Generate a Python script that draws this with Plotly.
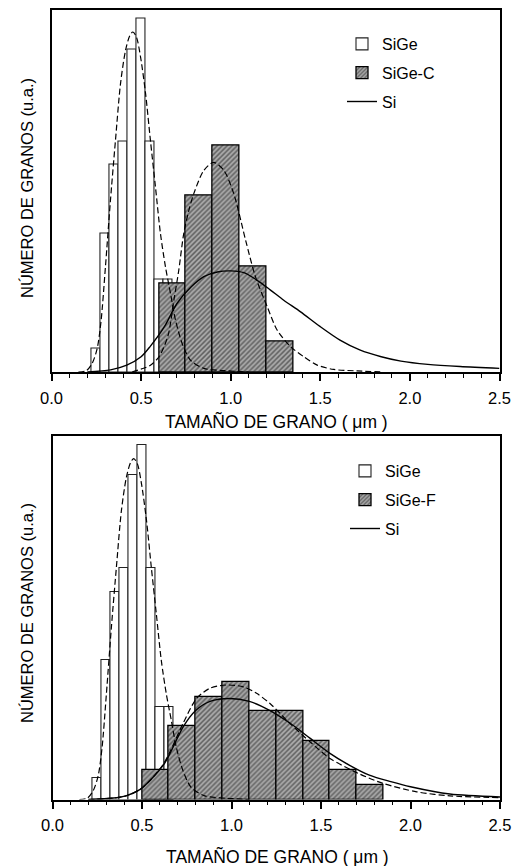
import plotly.graph_objects as go

# ---------------- data (arbitrary units, 0-100 = full plot height) ----------------
# SiGe histogram (bin width 0.05 um)
sige_x = [0.25, 0.30, 0.35, 0.40, 0.45, 0.50, 0.55, 0.60, 0.65]
sige_y_top = [6.5, 38.2, 57.2, 63.6, 89.0, 97.4, 63.6, 25.5, 25.5]
sige_y_bot = [5.8, 38.4, 57.2, 63.8, 89.2, 97.6, 63.8, 25.5, 25.5]

# SiGe-C histogram (bin width 0.15 um)
sigec_x = [0.675, 0.825, 0.975, 1.125, 1.275]
sigec_y = [24.4, 48.7, 62.5, 29.2, 8.3]

# SiGe-F histogram (bin width 0.15 um)
sigef_x = [0.575, 0.725, 0.875, 1.025, 1.175, 1.325, 1.475, 1.625, 1.775]
sigef_y = [8.1, 20.2, 28.2, 32.3, 24.3, 24.3, 16.1, 8.1, 4.0]

# SiGe fitted distribution (dashed)
fit_sige_x = [0.15, 0.195, 0.227, 0.255, 0.277, 0.301, 0.329, 0.357, 0.385, 0.413, 0.437,
              0.454, 0.474, 0.497, 0.525, 0.552, 0.580, 0.608, 0.636, 0.664, 0.692,
              0.729, 0.775, 0.850, 0.961, 1.10]
fit_sige_y = [0.0, 0.4, 2.4, 6.5, 14.3, 29.0, 47.4, 63.9, 79.5, 88.7, 92.8,
              93.8, 92.4, 86.9, 76.8, 63.9, 51.1, 38.2, 29.0, 21.7, 14.3,
              7.9, 3.3, 1.0, 0.4, 0.0]

# SiGe-C fitted distribution (dashed)
fit_sigec_x = [0.45, 0.50, 0.55, 0.60, 0.65, 0.683, 0.71, 0.738, 0.766, 0.794, 0.85,
               0.905, 0.962, 1.017, 1.083, 1.138, 1.204, 1.259, 1.334, 1.408, 1.483,
               1.575, 1.706, 1.85]
fit_sigec_y = [0.0, 0.8, 1.8, 4.2, 10.0, 19.8, 28.0, 38.2, 44.5, 49.2, 55.6,
               57.8, 55.6, 49.2, 36.4, 26.3, 18.0, 11.6, 7.0, 4.2, 1.9,
               0.7, 0.3, 0.0]

# Si fitted distribution, top panel (solid)
si_top_x = [0.20, 0.33, 0.42, 0.50, 0.55, 0.63, 0.70, 0.78, 0.85, 0.925, 1.0, 1.073,
            1.148, 1.222, 1.296, 1.39, 1.50, 1.61, 1.72, 1.84, 1.95, 2.10, 2.28, 2.50]
si_top_y = [0.0, 0.6, 1.9, 4.2, 7.0, 12.5, 18.9, 23.5, 26.3, 27.6, 27.9, 27.4,
            25.3, 22.6, 19.8, 16.6, 12.5, 8.8, 6.1, 4.2, 3.0, 2.1, 1.5, 1.0]

# Si fitted distribution, bottom panel (solid)
si_bot_x = [0.20, 0.34, 0.41, 0.49, 0.55, 0.62, 0.66, 0.73, 0.80, 0.88, 0.99, 1.10,
            1.21, 1.33, 1.44, 1.55, 1.66, 1.77, 1.89, 2.00, 2.22, 2.50]
si_bot_y = [0.0, 0.4, 1.0, 2.8, 5.5, 9.5, 13.0, 20.0, 24.5, 27.0, 27.8, 27.0,
            24.6, 20.9, 16.8, 12.7, 9.4, 6.7, 4.9, 3.5, 1.5, 0.7]

# SiGe-F fitted distribution (dashed)
fit_sigef_x = [0.20, 0.34, 0.41, 0.49, 0.55, 0.62, 0.66, 0.73, 0.805, 0.879, 0.972,
               1.066, 1.14, 1.215, 1.327, 1.44, 1.55, 1.708, 1.848, 2.035, 2.22, 2.50]
fit_sigef_y = [0.0, 0.4, 1.0, 2.8, 5.5, 9.8, 13.5, 21.0, 27.8, 30.6, 31.5,
               31.0, 29.2, 26.4, 20.9, 15.8, 11.3, 7.2, 4.4, 2.1, 1.0, 0.5]

x_tick_vals = [0.0, 0.5, 1.0, 1.5, 2.0, 2.5]
x_tick_text = ["0.0", "0.5", "1.0", "1.5", "2.0", "2.5"]

x_title = "TAMAÑO DE GRANO ( \u03bcm )"
y_title = "NÚMERO DE GRANOS (u.a.)"

# ---------------- figure ----------------
W, H = 522, 866
FONT = "Liberation Sans, Arial, Helvetica, sans-serif"

fig = go.Figure()

white_bar = dict(color="white", line=dict(color="#222222", width=1.1))
hatch_bar = dict(color="#a8a8a8",
                 pattern=dict(shape="/", size=3.5, solidity=0.45,
                              fgcolor="#1a1a1a", bgcolor="#aaaaaa"),
                 line=dict(color="black", width=1.3))
dash_line = dict(color="black", width=1.2, dash="6px,3px")
solid_line = dict(color="black", width=1.4)


def add_panel(xa, ya, leg, sige_y, hx, hy, hname, fit_h_x, fit_h_y, si_x, si_y):
    fig.add_trace(go.Bar(x=sige_x, y=sige_y, width=0.05, marker=white_bar,
                         name="SiGe", xaxis=xa, yaxis=ya, legend=leg,
                         legendgroup=leg + "a"))
    fig.add_trace(go.Bar(x=hx, y=hy, width=0.15, marker=hatch_bar,
                         name=hname, xaxis=xa, yaxis=ya, legend=leg,
                         legendgroup=leg + "b"))
    fig.add_trace(go.Scatter(x=fit_sige_x, y=fit_sige_y, mode="lines",
                             line=dict(shape="spline", smoothing=0.8, **dash_line),
                             showlegend=False, xaxis=xa, yaxis=ya))
    fig.add_trace(go.Scatter(x=fit_h_x, y=fit_h_y, mode="lines",
                             line=dict(shape="spline", smoothing=0.8, **dash_line),
                             showlegend=False, xaxis=xa, yaxis=ya))
    fig.add_trace(go.Scatter(x=si_x, y=si_y, mode="lines", name="Si",
                             line=dict(shape="spline", smoothing=0.8, **solid_line),
                             xaxis=xa, yaxis=ya, legend=leg, legendgroup=leg + "c"))


add_panel("x", "y", "legend", sige_y_top, sigec_x, sigec_y, "SiGe-C",
          fit_sigec_x, fit_sigec_y, si_top_x, si_top_y)
add_panel("x2", "y2", "legend2", sige_y_bot, sigef_x, sigef_y, "SiGe-F",
          fit_sigef_x, fit_sigef_y, si_bot_x, si_bot_y)

# panel pixel geometry
top_px = dict(l=51.5, r=499.5, t=9.5, b=372)
bot_px = dict(l=52.5, r=500, t=436, b=799.5)


def dom(p):
    return ([p["l"] / W, p["r"] / W], [1 - p["b"] / H, 1 - p["t"] / H])


(tx, ty), (bx, by) = dom(top_px), dom(bot_px)

xcommon = dict(range=[0, 2.5], tickvals=x_tick_vals, ticktext=x_tick_text,
               ticks="outside", ticklen=7, tickwidth=1.6, tickcolor="black",
               minor=dict(dtick=0.1, tick0=0, ticks="outside", ticklen=3.5,
                          tickwidth=1.4, tickcolor="black", showgrid=False),
               showline=True, linewidth=2, linecolor="black", mirror=True,
               showgrid=False, zeroline=False, automargin=False,
               ticklabelstandoff=3,
               tickfont=dict(family=FONT, size=16.5, color="black"))
ycommon = dict(range=[0, 100], showticklabels=False, ticks="",
               showline=True, linewidth=2, linecolor="black", mirror=True,
               showgrid=False, zeroline=False, automargin=False)

legcommon = dict(bgcolor="rgba(0,0,0,0)", font=dict(family=FONT, size=16, color="black"),
                 traceorder="grouped", tracegroupgap=5, xanchor="left", yanchor="top",
                 itemclick=False)

fig.update_layout(
    width=W, height=H, margin=dict(l=0, r=0, t=0, b=0),
    paper_bgcolor="white", plot_bgcolor="white",
    barmode="overlay", bargap=0,
    xaxis=dict(domain=tx, anchor="y", **xcommon),
    yaxis=dict(domain=ty, anchor="x", **ycommon),
    xaxis2=dict(domain=bx, anchor="y2", **xcommon),
    yaxis2=dict(domain=by, anchor="x2", **ycommon),
    legend=dict(x=342 / W, y=1 - 27 / H, **legcommon),
    legend2=dict(x=345 / W, y=1 - 454 / H, **legcommon),
    font=dict(family=FONT, color="black"),
    annotations=[
        dict(text=x_title, x=276 / W, y=1 - 421 / H, xref="paper", yref="paper",
             showarrow=False, font=dict(family=FONT, size=17.5), xanchor="center", yanchor="middle"),
        dict(text=x_title, x=277 / W, y=1 - 856 / H, xref="paper", yref="paper",
             showarrow=False, font=dict(family=FONT, size=17.5), xanchor="center", yanchor="middle"),
        dict(text=y_title, x=27 / W, y=1 - 188 / H, xref="paper", yref="paper", textangle=-90,
             showarrow=False, font=dict(family=FONT, size=16.5), xanchor="center", yanchor="middle"),
        dict(text=y_title, x=27 / W, y=1 - 613 / H, xref="paper", yref="paper", textangle=-90,
             showarrow=False, font=dict(family=FONT, size=16.5), xanchor="center", yanchor="middle"),
    ],
)

fig.write_html("out.html")
